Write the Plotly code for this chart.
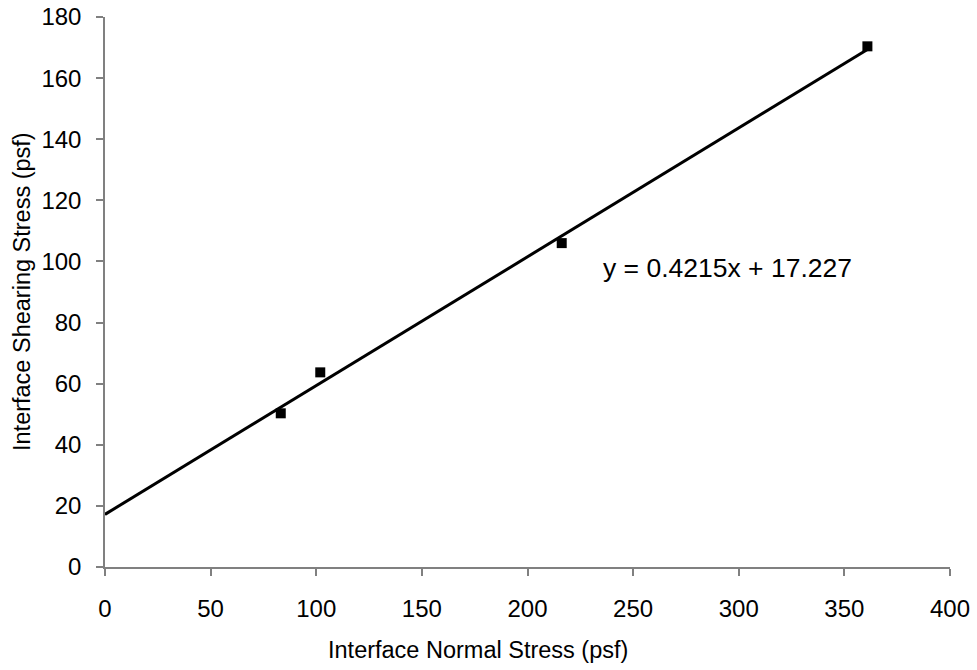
import plotly.graph_objects as go

normal_stress = [83.2, 101.9, 216.2, 360.9]
shear_stress = [50.3, 63.7, 106.0, 170.4]
slope = 0.4215
intercept = 17.227
trend_x = [0, max(normal_stress)]
trend_y = [slope * v + intercept for v in trend_x]
x_ticks = [0, 50, 100, 150, 200, 250, 300, 350, 400]
y_ticks = [0, 20, 40, 60, 80, 100, 120, 140, 160, 180]
equation_text = "y = 0.4215x + 17.227"
x_title = "Interface Normal Stress (psf)"
y_title = "Interface Shearing Stress (psf)"

FONT = "Liberation Sans, Arial, sans-serif"
W, H = 977, 670
# plot area in page pixels: x 105..950, y 17..567 (page body margin removed)
L, R, T, B = 105, W - 950, 17, H - 567
pw = W - L - R
ph = H - T - B

fig = go.Figure()
fig.add_trace(go.Scatter(x=trend_x, y=trend_y, mode="lines",
                         line=dict(color="black", width=3), showlegend=False,
                         hoverinfo="skip"))
fig.add_trace(go.Scatter(x=normal_stress, y=shear_stress, mode="markers",
                         marker=dict(symbol="square", size=10, color="black"),
                         showlegend=False))

axis_common = dict(showgrid=False, zeroline=False, automargin=False,
                   showline=True, linecolor="#808080", linewidth=1.5,
                   ticks="outside", ticklen=7, tickcolor="#808080", tickwidth=1.5,
                   tickfont=dict(size=24), ticklabeloverflow="allow")

fig.update_layout(
    width=W, height=H,
    template="none",
    margin=dict(l=L, r=R, t=T, b=B),
    paper_bgcolor="white", plot_bgcolor="white",
    font=dict(family=FONT, size=24, color="black"),
    xaxis=dict(range=[0, 400], tickvals=x_ticks, ticklabelstandoff=12, **axis_common),
    yaxis=dict(range=[0, 180], tickvals=y_ticks, ticklabelstandoff=10, **axis_common),
    showlegend=False,
)

def px_to_paper(px, py):
    return (px - L) / pw, (H - B - py) / ph

x0, y0 = px_to_paper(478, 650)
fig.add_annotation(text=x_title, x=x0, y=y0, xref="paper", yref="paper",
                   xanchor="center", yanchor="middle", showarrow=False,
                   font=dict(size=23.5))
x1, y1 = px_to_paper(22, 292)
fig.add_annotation(text=y_title, textangle=-90, x=x1, y=y1, xref="paper", yref="paper",
                   xanchor="center", yanchor="middle", showarrow=False,
                   font=dict(size=23.5))
x2, y2 = px_to_paper(727, 268)
fig.add_annotation(text=equation_text, x=x2, y=y2, xref="paper", yref="paper",
                   xanchor="center", yanchor="middle", showarrow=False,
                   font=dict(size=26.5))

fig.write_html("out.html", config={"displayModeBar": False},
               post_script="document.body.style.margin='0';")
